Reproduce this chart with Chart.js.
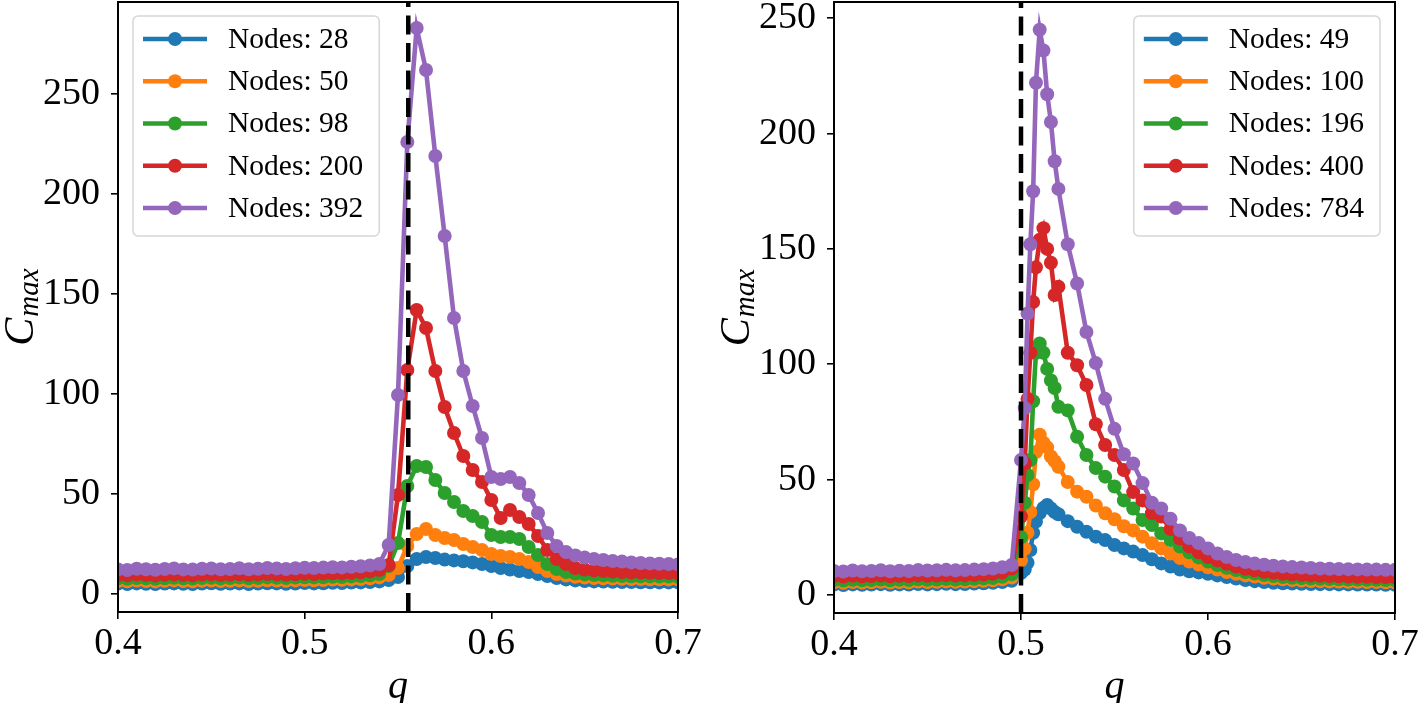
<!DOCTYPE html>
<html><head><meta charset="utf-8">
<script src="https://cdn.jsdelivr.net/npm/chart.js@4.4.1/dist/chart.umd.min.js"></script>
<style>
html,body{margin:0;padding:0;background:#fff;}
#wrap{position:relative;width:1418px;height:703px;overflow:hidden;background:#fff;}
.panel{position:absolute;top:0;width:709px;height:703px;}
</style></head>
<body>
<div id="wrap">
  <div class="panel" style="left:0"><canvas id="cL"></canvas></div>
  <div class="panel" style="left:709px"><canvas id="cR"></canvas></div>
</div>
<script>
// ---------------- DATA ----------------
const xTicks = [0.4, 0.5, 0.6, 0.7];
const yTicks = [0, 50, 100, 150, 200, 250];
const xRange = [0.4, 0.7];
const yRangeLeft = [-9, 296];
const yRangeRight = [-7.8, 257];
const critLeft = 0.5555;
const critRight = 0.5;

const leftLabels = ['Nodes: 28', 'Nodes: 50', 'Nodes: 98', 'Nodes: 200', 'Nodes: 392'];
const rightLabels = ['Nodes: 49', 'Nodes: 100', 'Nodes: 196', 'Nodes: 400', 'Nodes: 784'];

const qLeft = [0.400,0.405,0.410,0.415,0.420,0.425,0.430,0.435,0.440,0.445,0.450,0.455,0.460,0.465,0.470,0.475,0.480,0.485,0.490,0.495,
  0.500,0.505,0.510,0.515,0.520,0.525,0.530,0.535,0.540,0.545,0.550,0.555,0.560,0.565,0.570,0.575,0.580,0.585,0.590,0.595,
  0.600,0.605,0.610,0.615,0.620,0.625,0.630,0.635,0.640,0.645,0.650,0.655,0.660,0.665,0.670,0.675,0.680,0.685,0.690,0.695,0.700];

const leftN28 = [5.2,5.0,5.3,5.1,5.0,5.2,5.3,5.1,5.0,5.2,5.4,5.1,5.2,5.3,5.0,5.2,5.4,5.3,5.1,5.2,5.5,5.3,5.4,5.6,5.5,5.7,5.8,6.0,6.3,
  7.0,8.5,14,17.5,18.5,18,17.2,16.8,16.4,15.8,15,14,13,12.2,11.5,11,10,9,8,7.3,6.8,6.5,6.3,6.2,6.1,6.0,6.0,5.9,5.9,5.8,5.8,5.8];
const leftN50 = [6.5,6.4,6.7,6.5,6.3,6.6,6.8,6.5,6.4,6.6,6.7,6.5,6.6,6.8,6.5,6.6,6.9,6.7,6.6,6.8,7.0,6.9,7.0,7.2,7.1,7.3,7.5,7.8,8.3,
  9.5,13,24,30,32.5,29.5,28,27,25,23.5,22,20,19,18.5,17.5,16,13.5,11.5,10,9.2,8.6,8.2,8.0,7.8,7.7,7.6,7.5,7.5,7.4,7.4,7.3,7.3];
const leftN98 = [7.8,7.6,8.0,7.8,7.6,7.9,8.1,7.8,7.7,8.0,8.1,7.8,8.0,8.2,7.9,8.0,8.3,8.1,8.0,8.2,8.4,8.3,8.4,8.6,8.5,8.8,9.0,9.4,10.0,
  14,25.5,54,64,63.5,57,50.5,46,41.5,39,36,29.5,28.5,28.5,27.5,23.5,19.5,15,12.5,11,10.2,9.8,9.5,9.3,9.1,9.0,8.9,8.8,8.8,8.7,8.7,8.6];
const leftN200 = [9.5,9.3,9.7,9.5,9.2,9.6,9.8,9.5,9.3,9.7,9.8,9.5,9.6,9.9,9.5,9.7,10.0,9.8,9.6,9.9,10.1,10.0,10.2,10.4,10.3,10.6,10.9,11.3,12.0,
  14.5,49.5,112,142,133,111.5,93.5,80.5,69,62,56,47,38,42,38.5,35,29,22,17.5,15,13,12.2,11.8,11.5,11.2,11.0,10.8,10.7,10.6,10.5,10.5,10.4];
const leftN392 = [12.3,12.0,12.6,12.4,12.1,12.5,12.8,12.3,12.2,12.6,12.8,12.4,12.5,12.9,12.4,12.6,13.0,12.8,12.5,12.9,13.1,13.0,13.2,13.4,13.3,13.6,13.9,14.3,15.0,
  24.5,99.5,226,283,262,219,179,138,111.5,94,78,58.5,57.5,58.5,55.5,49.5,40.5,30.5,24,21,19.3,18.2,17.5,17,16.5,16.2,15.8,15.5,15.3,15.1,15.0,14.8];

const qRight = [0.400,0.405,0.410,0.415,0.420,0.425,0.430,0.435,0.440,0.445,0.450,0.455,0.460,0.465,0.470,0.475,0.480,0.485,0.490,0.495,0.500,
  0.502,0.5035,0.505,0.5065,0.508,0.510,0.512,0.514,0.516,0.518,0.520,
  0.525,0.530,0.535,0.540,0.545,0.550,0.555,0.560,0.565,0.570,0.575,0.580,0.585,0.590,0.595,0.600,0.605,0.610,0.615,0.620,
  0.625,0.630,0.635,0.640,0.645,0.650,0.655,0.660,0.665,0.670,0.675,0.680,0.685,0.690,0.695,0.700];

const rightN49 = [4.5,4.3,4.6,4.4,4.5,4.7,4.4,4.6,4.5,4.8,4.6,4.7,4.9,4.7,4.8,5.0,5.1,5.3,5.6,6.2,9.5,
  11,14,19.5,27,31.8,35.5,37.7,39,37.5,36,35,
  32,29.6,27.4,25.3,23.8,21.7,20.2,18.8,17.3,15.5,13.7,12.3,11,10.3,9.8,9.2,8.5,7.8,7.1,6.5,
  6.0,5.6,5.3,5.1,5.0,4.9,4.8,4.7,4.7,4.6,4.6,4.5,4.5,4.5,4.4,4.4];
const rightN100 = [5.5,5.3,5.6,5.4,5.5,5.7,5.4,5.6,5.5,5.8,5.6,5.7,5.9,5.7,5.8,6.0,6.2,6.4,6.8,7.6,15,
  20,27,36,48,62,69.5,66,64,60,58,55.6,
  49,44.8,42.6,38.8,35.4,32.8,29.8,28,25.3,22.4,20.2,18,16,14.5,13.2,12,11,10,9.2,8.5,
  8.0,7.5,7.1,6.8,6.5,6.3,6.1,6.0,5.9,5.8,5.7,5.7,5.6,5.6,5.5,5.5];
const rightN196 = [6.5,6.3,6.6,6.4,6.5,6.7,6.4,6.6,6.5,6.8,6.6,6.7,6.9,6.7,6.8,7.0,7.2,7.4,7.9,9.0,25,
  40,52,58.5,84,105,109,105,98,93,89.7,81.6,
  80,68.6,60.7,55,51.3,47,41,37.5,32.5,30.3,26.7,23.8,21,18.5,16.3,14.5,13,11.8,10.8,10,
  9.3,8.7,8.2,7.8,7.5,7.3,7.1,7.0,6.9,6.8,6.7,6.7,6.6,6.6,6.5,6.5];
const rightN400 = [8.2,8.0,8.3,8.1,8.2,8.4,8.1,8.3,8.2,8.5,8.3,8.4,8.6,8.4,8.5,8.7,8.9,9.2,9.8,11.5,34,
  57,85,105,127,142,154,159,150,144,130,133.6,
  105,99.6,91,74,65,60.7,54.2,44.6,41,35.5,34,28.6,24.5,21,18.5,16.5,15,13.5,12.3,11.4,
  10.7,10.1,9.6,9.2,8.9,8.7,8.5,8.3,8.2,8.1,8.0,7.9,7.9,7.8,7.8,7.7];
const rightN784 = [10.4,10.2,10.6,10.3,10.4,10.7,10.3,10.5,10.4,10.8,10.6,10.7,10.9,10.7,10.8,11.0,11.2,11.5,12.0,13.0,58.5,
  81,122,152,175,222,245,236,217,205,188,176,
  152,135,114,100.5,85,72,61,57,48.5,40,37.5,33,28,24.7,22.5,20.2,18,16.5,15.2,14.3,
  13.6,13.1,12.7,12.4,12.1,11.9,11.7,11.5,11.4,11.3,11.2,11.1,11.0,11.0,10.9,10.9];

// ---------------- STYLE ----------------
const COLORS = ['#1f77b4', '#ff7f0e', '#2ca02c', '#d62728', '#9467bd'];
const FONT = "'Liberation Serif', 'Times New Roman', serif";

function seriesSets(q, seriesList, labels, crit, yr) {
  const ds = seriesList.map((vals, i) => ({
    label: labels[i],
    data: q.map((x, j) => ({ x: x, y: vals[j] })),
    borderColor: COLORS[i],
    backgroundColor: COLORS[i],
    pointBackgroundColor: COLORS[i],
    pointBorderWidth: 0,
    pointRadius: 7,
    pointHoverRadius: 7,
    borderWidth: 4.6,
    tension: 0,
    order: seriesList.length - i
  }));
  ds.push({
    label: '_crit',
    isRef: true,
    data: [{ x: crit, y: yr[0] }, { x: crit, y: yr[1] }],
    borderColor: '#000',
    borderWidth: 4.5,
    borderDash: [19, 8.5],
    pointRadius: 0,
    order: 0
  });
  return ds;
}

const framePlugin = {
  id: 'frame',
  afterDraw(chart) {
    const { ctx, chartArea: a } = chart;
    ctx.save();
    ctx.strokeStyle = '#000';
    ctx.lineWidth = 2;
    ctx.strokeRect(a.left, a.top, a.right - a.left, a.bottom - a.top);
    ctx.restore();
  }
};

const legendPlugin = {
  id: 'mplLegend',
  afterDatasetsDraw(chart, args, o) {
    const ctx = chart.ctx, a = chart.chartArea;
    const items = chart.data.datasets.filter(d => !d.isRef);
    ctx.save();
    ctx.font = '29.5px ' + FONT;
    const tw = Math.max(...items.map(d => ctx.measureText(d.label).width));
    const padL = 10, lineLen = 64, gap = 21, padR = 16;
    const boxW = padL + lineLen + gap + tw + padR;
    const boxH = 220;
    const x0 = o.align === 'left' ? a.left + 15 : a.right - 15 - boxW;
    const y0 = a.top + 14;
    ctx.beginPath();
    ctx.roundRect(x0, y0, boxW, boxH, 5);
    ctx.fillStyle = 'rgba(255,255,255,0.8)';
    ctx.fill();
    ctx.strokeStyle = 'rgba(204,204,204,0.8)';
    ctx.lineWidth = 1.5;
    ctx.stroke();
    items.forEach((d, i) => {
      const cy = y0 + 23 + 42.25 * i;
      const lx = x0 + padL;
      ctx.beginPath();
      ctx.moveTo(lx, cy);
      ctx.lineTo(lx + lineLen, cy);
      ctx.strokeStyle = d.borderColor;
      ctx.lineWidth = d.borderWidth;
      ctx.stroke();
      ctx.beginPath();
      ctx.arc(lx + lineLen / 2, cy, d.pointRadius, 0, Math.PI * 2);
      ctx.fillStyle = d.borderColor;
      ctx.fill();
      ctx.fillStyle = '#000';
      ctx.textBaseline = 'middle';
      ctx.textAlign = 'left';
      ctx.fillText(d.label, lx + lineLen + gap, cy + 1);
    });
    ctx.restore();
  }
};

const yTitlePlugin = {
  id: 'yTitle',
  afterDraw(chart, args, o) {
    const ctx = chart.ctx, a = chart.chartArea;
    const cy = (a.top + a.bottom) / 2;
    ctx.save();
    ctx.translate(a.left - o.offset, cy);
    ctx.rotate(-Math.PI / 2);
    ctx.fillStyle = '#000';
    ctx.textBaseline = 'alphabetic';
    ctx.textAlign = 'left';
    ctx.font = 'italic 42px ' + FONT;
    const wC = ctx.measureText('C').width;
    ctx.font = 'italic 29px ' + FONT;
    const wS = ctx.measureText('max').width;
    const start = -(wC + wS + 1) / 2;
    ctx.font = 'italic 42px ' + FONT;
    ctx.fillText('C', start, 0);
    ctx.font = 'italic 29px ' + FONT;
    ctx.fillText('max', start + wC + 1, 5);
    ctx.restore();
  }
};

function makeChart(id, q, seriesList, labels, crit, yr, areaLeft, padRight, areaBottom, align) {
  const tickFont = { family: FONT, size: 38 };
  return new Chart(document.getElementById(id), {
    type: 'line',
    data: { datasets: seriesSets(q, seriesList, labels, crit, yr) },
    plugins: [legendPlugin, yTitlePlugin, framePlugin],
    options: {
      responsive: true,
      maintainAspectRatio: false,
      animation: false,
      events: [],
      layout: { padding: { left: 0, right: padRight, top: 2, bottom: 0 }, autoPadding: false },
      plugins: {
        legend: { display: false },
        tooltip: { enabled: false },
        mplLegend: { align: align },
        yTitle: { offset: 85 }
      },
      scales: {
        x: {
          type: 'linear',
          min: xRange[0], max: xRange[1],
          afterBuildTicks: s => { s.ticks = xTicks.map(v => ({ value: v })); },
          afterFit: s => { s.height = 703 - areaBottom; s.paddingLeft = 0; s.paddingRight = 0; },
          ticks: { font: tickFont, color: '#000', padding: 2, maxRotation: 0, autoSkip: false,
                   callback: v => Number(v).toFixed(1) },
          grid: { drawOnChartArea: false, drawTicks: true, tickLength: 7, color: '#000', lineWidth: 1.6 },
          border: { display: true, color: '#000', width: 2 },
          title: { display: true, text: 'q', color: '#000',
                   font: { family: FONT, size: 40, style: 'italic', lineHeight: 0.8 }, padding: { top: 0, bottom: 0 } }
        },
        y: {
          type: 'linear',
          min: yr[0], max: yr[1],
          afterBuildTicks: s => { s.ticks = yTicks.map(v => ({ value: v })); },
          afterFit: s => { s.width = areaLeft; s.paddingTop = 0; s.paddingBottom = 0; },
          ticks: { font: tickFont, color: '#000', padding: 11, autoSkip: false,
                   callback: v => String(v) },
          grid: { drawOnChartArea: false, drawTicks: true, tickLength: 7, color: '#000', lineWidth: 1.6 },
          border: { display: true, color: '#000', width: 2 }
        }
      }
    }
  });
}

makeChart('cL', qLeft, [leftN28, leftN50, leftN98, leftN200, leftN392], leftLabels,
          critLeft, yRangeLeft, 118, 31, 612, 'left');
makeChart('cR', qRight, [rightN49, rightN100, rightN196, rightN400, rightN784], rightLabels,
          critRight, yRangeRight, 125, 23, 613, 'right');
</script>
</body></html>
